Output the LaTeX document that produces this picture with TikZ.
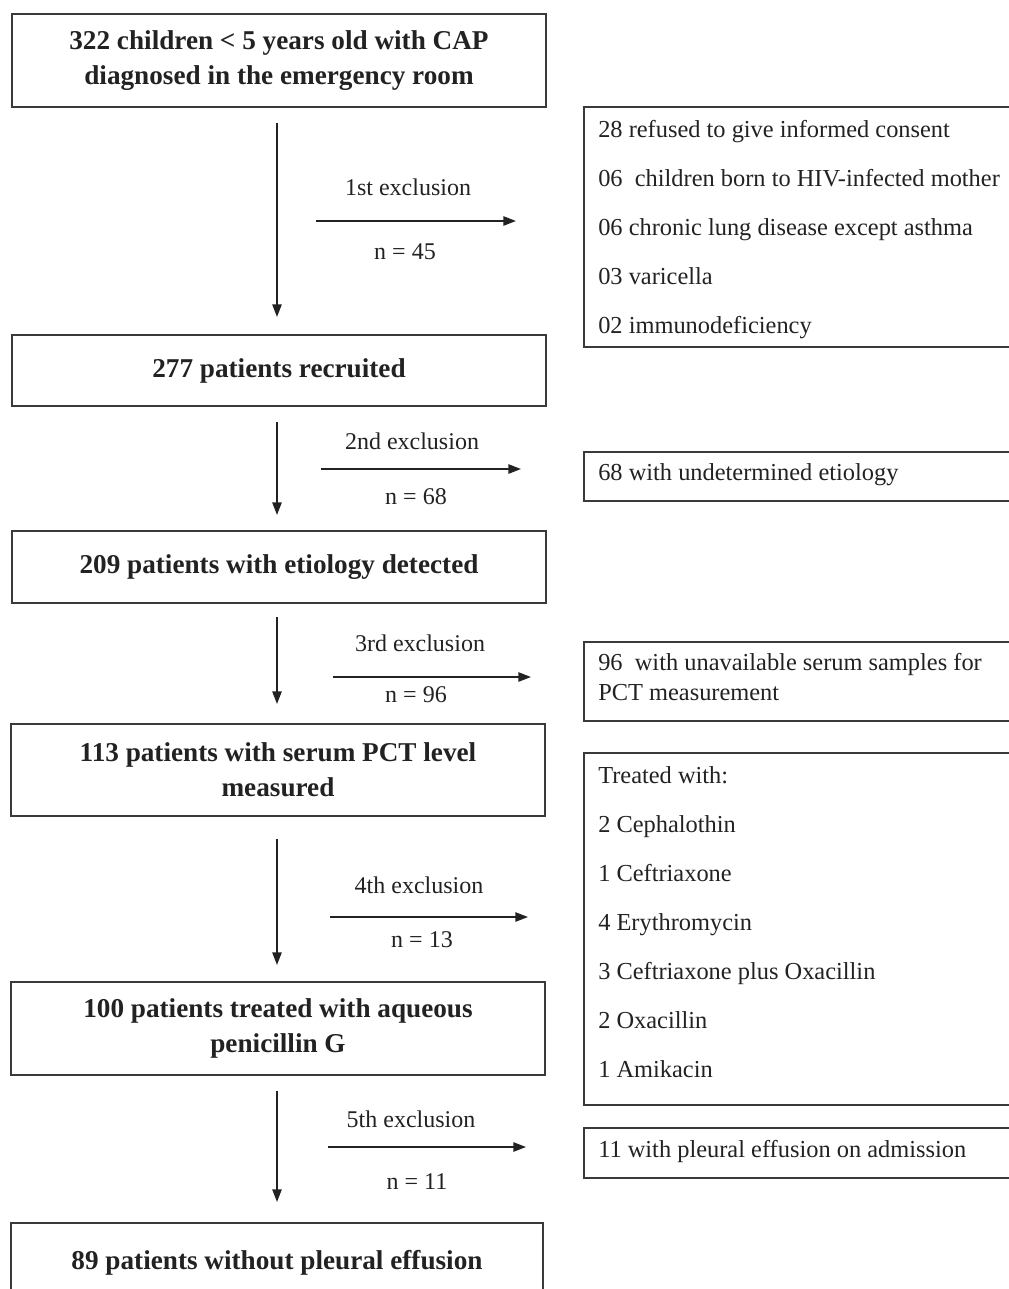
\documentclass[tikz,border=0pt]{standalone}
\usepackage{fontspec}
\setmainfont{Liberation Serif}
\usetikzlibrary{arrows.meta}
\definecolor{ink}{HTML}{222222}
\definecolor{edge}{HTML}{3A3A3A}
\begin{document}
\begin{tikzpicture}[x=0.75pt,y=-0.75pt,
  mainbox/.style={draw=edge, line width=1.5pt, minimum width=534*0.75pt, inner sep=0pt, align=center, text=ink, font=\fontsize{20.4}{26.25}\selectfont\bfseries},
  sidebox/.style={draw=edge, line width=1.4pt, minimum width=440*0.75pt, inner sep=0pt, anchor=north west},
  sidetext/.style={anchor=west, inner sep=0pt, align=left, text=ink, font=\fontsize{18.3}{36.8}\selectfont},
  lbl/.style={inner sep=0pt, text=ink, font=\fontsize{18}{20}\selectfont},
  arr/.style={line width=1.2pt, draw=ink, -{Triangle[length=9.5pt,width=7pt]}}]
\useasboundingbox (0,0) rectangle (1009,1289);
\fill[white] (0,0) rectangle (1009,1289);

% main boxes
\node[mainbox, minimum height=93*0.75pt] (b1) at (279,60.5) {322 children {\char"003C} 5 years old with CAP\\diagnosed in the emergency room};
\node[mainbox, minimum height=71*0.75pt] (b2) at (279,370.5) {277 patients recruited};
\node[mainbox, minimum height=72*0.75pt] (b3) at (279,567) {209 patients with etiology detected};
\node[mainbox, minimum height=92*0.75pt] (b4) at (278,770) {113 patients with serum PCT level\\measured};
\node[mainbox, minimum height=93*0.75pt] (b5) at (278,1028.5) {100 patients treated with aqueous\\penicillin G};
\node[mainbox, minimum width=532*0.75pt, minimum height=80*0.75pt] (b6) at (277,1263) {89 patients without pleural effusion};

% side boxes
\node[sidebox, minimum height=240*0.75pt] (r1) at (583,106) {};
\node[sidetext] (t1) at ([xshift=15*0.75pt, yshift=-2pt]r1.west) {28 refused to give informed consent\\06\ \ children born to HIV-infected mother\\06 chronic lung disease except asthma\\03 varicella\\02 immunodeficiency};
\node[sidebox, minimum height=49*0.75pt] (r2) at (583,451) {};
\node[sidetext] (t2) at ([xshift=15*0.75pt, yshift=1pt]r2.west) {68 with undetermined etiology};
\node[sidebox, minimum height=79*0.75pt] (r3) at (583,641) {};
\node[sidetext, font=\fontsize{18.3}{22.5}\selectfont] (t3) at ([xshift=15*0.75pt, yshift=3pt]r3.west) {96\ \ with unavailable serum samples for\\PCT measurement};
\node[sidebox, minimum height=352*0.75pt] (r4) at (583,752) {};
\node[sidetext] (t4) at ([xshift=15*0.75pt, yshift=5pt]r4.west) {Treated with:\\2 Cephalothin\\1 Ceftriaxone\\4 Erythromycin\\3 Ceftriaxone plus Oxacillin\\2 Oxacillin\\1 Amikacin};
\node[sidebox, minimum height=50*0.75pt] (r5) at (583,1127) {};
\node[sidetext] (t5) at ([xshift=15*0.75pt, yshift=1pt]r5.west) {11 with pleural effusion on admission};

% vertical arrows (all on the axis x = 277)
\coordinate (ax) at (277,0);
\draw[arr] ([yshift=-11.25pt]b1.south -| ax) -- ([yshift=12.75pt]b2.north -| ax);
\draw[arr] ([yshift=-11.25pt]b2.south -| ax) -- ([yshift=11.25pt]b3.north -| ax);
\draw[arr] ([yshift=-9.75pt]b3.south -| ax) -- ([yshift=14.25pt]b4.north -| ax);
\draw[arr] ([yshift=-16.5pt]b4.south -| ax) -- ([yshift=12pt]b5.north -| ax);
\draw[arr] ([yshift=-11.25pt]b5.south -| ax) -- ([yshift=15pt]b6.north -| ax);

% horizontal exclusion arrows
\coordinate (h1a) at (316,221); \coordinate (h1b) at (516,221);
\coordinate (h2a) at (321,469); \coordinate (h2b) at (521,469);
\coordinate (h3a) at (333,677); \coordinate (h3b) at (531,677);
\coordinate (h4a) at (330,917); \coordinate (h4b) at (528,917);
\coordinate (h5a) at (328,1147); \coordinate (h5b) at (526,1147);
\draw[arr] (h1a) -- (h1b);
\draw[arr] (h2a) -- (h2b);
\draw[arr] (h3a) -- (h3b);
\draw[arr] (h4a) -- (h4b);
\draw[arr] (h5a) -- (h5b);

\node[lbl] (e1) at (408,187) {1st exclusion};
\node[lbl] (n1) at (405,252) {n = 45};
\node[lbl] (e2) at (412,441) {2nd exclusion};
\node[lbl] (n2) at (416,497) {n = 68};
\node[lbl] (e3) at (420,643) {3rd exclusion};
\node[lbl] (n3) at (416,695) {n = 96};
\node[lbl] (e4) at (419,885) {4th exclusion};
\node[lbl] (n4) at (422,940) {n = 13};
\node[lbl] (e5) at (411,1119) {5th exclusion};
\node[lbl] (n5) at (417,1182) {n = 11};
\end{tikzpicture}
\end{document}
